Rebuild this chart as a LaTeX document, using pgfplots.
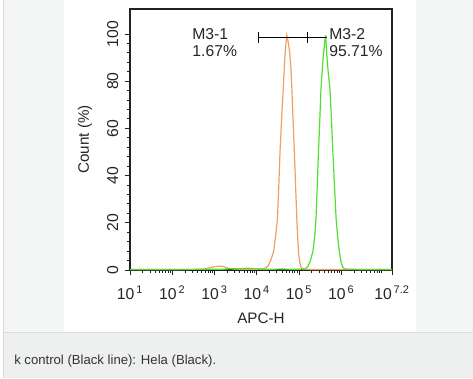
\documentclass[border=0pt]{standalone}
\usepackage{pgfplots}
\pgfplotsset{compat=1.18}
\usepackage{fontspec}
\setmainfont{Liberation Sans}
\definecolor{panelbg}{HTML}{F4F5F5}
\definecolor{stripbg}{HTML}{EEEFEF}
\definecolor{borderc}{HTML}{DADADA}
\definecolor{orangec}{RGB}{240,160,100}
\definecolor{greenc}{RGB}{80,222,50}
\definecolor{axisc}{HTML}{222222}
\begin{document}
\begin{tikzpicture}[x=0.75pt,y=0.75pt]
\useasboundingbox (0,0) rectangle (473,378);
\fill[white] (0,0) rectangle (473,378);
\fill[panelbg] (3,46) rectangle (473,378);
\fill[white] (64,46) rectangle (416,378);
\fill[stripbg] (3,0) rectangle (473,45.5);
\draw[borderc,line width=0.75pt] (3,45.5) -- (473,45.5);
\draw[borderc,line width=0.75pt] (3,0) -- (3,378);
\node[anchor=west,text=black!80,font=\fontsize{9.85}{11}\selectfont,inner sep=0] at (14,17) {k control (Black line): Hela (Black).};
\begin{axis}[
  at={(97.5pt,81pt)}, anchor=south west,
  scale only axis, width=196.5pt, height=195.75pt,
  xmin=1, xmax=7.2, ymin=0, ymax=110.6,
  axis line style={axisc, line width=0.8pt},
  xtick={1,2,3,4,5,6,7.2},
  xticklabels={10\textsuperscript{\,1},10\textsuperscript{\,2},10\textsuperscript{\,3},10\textsuperscript{\,4},10\textsuperscript{\,5},10\textsuperscript{\,6},10\textsuperscript{\,7.2}},
  minor xtick={1.301,1.477,1.602,1.699,1.778,1.845,1.903,1.954,
               2.301,2.477,2.602,2.699,2.778,2.845,2.903,2.954,
               3.301,3.477,3.602,3.699,3.778,3.845,3.903,3.954,
               4.301,4.477,4.602,4.699,4.778,4.845,4.903,4.954,
               5.301,5.477,5.602,5.699,5.778,5.845,5.903,5.954,
               6.301,6.477,6.602,6.699,6.778,6.845,6.903,6.954},
  ytick={0,20,40,60,80,100},
  minor y tick num=4,
  xtick pos=left, ytick pos=left,
  tick align=outside,
  major tick length=4pt, minor tick length=2.2pt,
  tick style={axisc, line width=0.7pt},
  /pgf/number format/assume math mode=true,
  tick label style={font=\fontsize{11.8}{13}\selectfont, text=black!85},
  yticklabel style={rotate=90, anchor=south, inner sep=1pt, yshift=3.5pt},
  xticklabel style={inner sep=1pt, yshift=-7pt},
  xlabel={APC-H}, ylabel={Count (\%)},
  label style={font=\fontsize{11.4}{13}\selectfont, text=black!85},
  xlabel style={at={(axis description cs:0.5,-0.184)}, anchor=center},
  ylabel style={at={(axis description cs:-0.172,0.5)}, anchor=center},
  clip=false,
]
\addplot[orangec, line width=0.9pt] coordinates {
(1.0,0.2) (2.0,0.2) (2.7,0.3) (2.8,0.6) (2.9,1.0) (3.0,1.4) (3.1,1.6) (3.2,1.5)
(3.3,0.9) (3.4,0.5) (3.6,0.3) (3.9,0.3) (4.1,0.4) (4.2,0.8) (4.26,1.5) (4.33,4)
(4.40,8) (4.45,15) (4.49,22) (4.52,35) (4.55,50) (4.59,65) (4.63,78) (4.67,92)
(4.71,99.5) (4.74,97) (4.78,92) (4.81,85) (4.83,77) (4.86,63) (4.89,50) (4.92,35)
(4.95,21) (4.97,13) (4.99,7) (5.02,3) (5.05,1) (5.1,0.4) (5.3,0.2) (6,0.2) (7.2,0.2)
};
\addplot[greenc, line width=0.9pt] coordinates {
(1.0,0.2) (3.2,0.3) (3.4,0.6) (3.6,0.5) (3.8,0.8) (3.9,0.5) (4.2,0.3) (4.6,0.4)
(5.0,0.3) (5.15,0.5) (5.21,1.5) (5.27,4) (5.33,8) (5.37,14) (5.40,21) (5.43,35)
(5.46,50) (5.49,63) (5.52,77) (5.57,90) (5.61,97) (5.63,99.5) (5.65,93) (5.67,88)
(5.70,82) (5.73,77) (5.77,63) (5.80,50) (5.84,35) (5.88,21) (5.92,13) (5.96,7)
(6.00,3) (6.04,1) (6.1,0.4) (6.5,0.2) (7.2,0.2)
};
% gates
\draw[black, line width=0.8pt] (axis cs:4.05,98.5) -- (axis cs:5.65,98.5);
\draw[black, line width=0.8pt] (axis cs:4.05,96.3) -- (axis cs:4.05,100.7);
\draw[black, line width=0.8pt] (axis cs:5.2,96.3) -- (axis cs:5.2,100.7);
\node[anchor=north west, align=left, inner sep=0, font=\fontsize{11.8}{12.75}\selectfont, text=black!85] at (axis cs:2.47,102.5) {M3-1\\1.67\%};
\node[anchor=north west, align=left, inner sep=0, font=\fontsize{11.8}{12.75}\selectfont, text=black!85] at (axis cs:5.71,102.5) {M3-2\\95.71\%};
\end{axis}
\end{tikzpicture}
\end{document}
